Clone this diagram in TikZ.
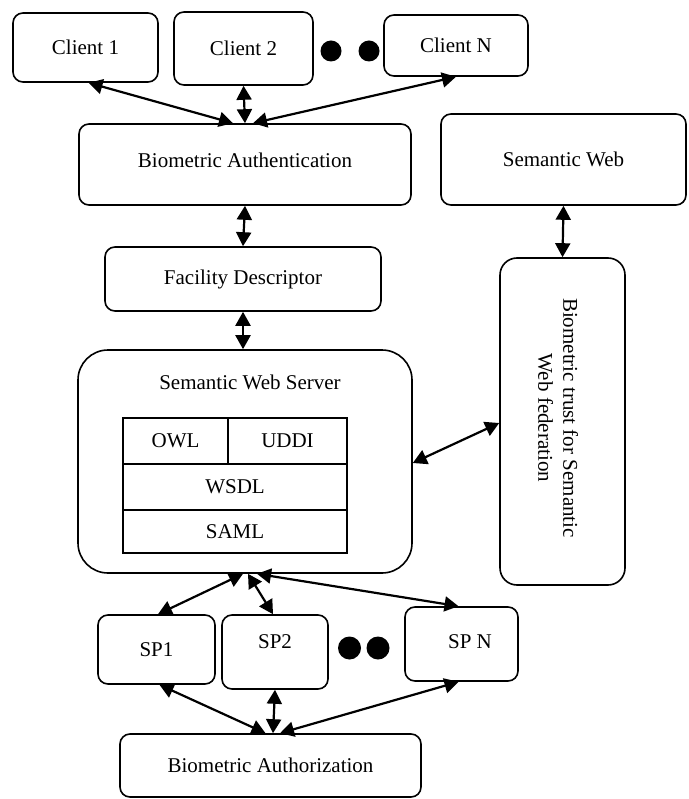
\documentclass[tikz,border=0pt]{standalone}
\usepackage{fontspec}
\setmainfont{Liberation Serif}
\usetikzlibrary{arrows.meta}
\newcommand{\fs}{\fontsize{21}{25}\selectfont}
\begin{document}
\begin{tikzpicture}[x=1pt,y=-1pt,font=\fs,
  box/.style={draw, line width=1.6pt, rounded corners=10pt, inner sep=0pt},
  cell/.style={draw, line width=1.6pt, inner sep=0pt},
  arr/.style={line width=2.2pt, {Triangle[length=14pt,width=15pt]}-{Triangle[length=14pt,width=15pt]}},
  dot/.style={fill=black, circle, inner sep=0pt}]
\useasboundingbox (0,0) rectangle (688,799);
% clients
\node[box, minimum width=145pt, minimum height=69pt] (c1) at (85.5,47.5) {Client 1};
\node[box, minimum width=139pt, minimum height=73pt] (c2) at (243.5,48.5) {Client 2};
\node[box, minimum width=144pt, minimum height=61pt] (cn) at (456,45.5) {Client N};
\node[dot, minimum size=21pt] (d1) at (331,51) {};
\node[dot, minimum size=21pt] (d2) at (369,51) {};
% authentication
\node[box, minimum width=332pt, minimum height=81pt, label={[yshift=4.5pt]center:Biometric Authentication}] (ba) at (245,164.5) {};
\node[box, minimum width=245pt, minimum height=91pt] (sw) at (563.5,159.5) {Semantic Web};
\node[box, minimum width=276pt, minimum height=64pt] (fd) at (243,279) {Facility Descriptor};
% semantic web server
\node[box, rounded corners=30pt, minimum width=334pt, minimum height=223pt] (sws) at (245,461.5) {};
\node (swst) at (250,382) {Semantic Web Server};
\node[cell, minimum width=105pt, minimum height=46pt] (owl) at (175.5,441) {OWL};
\node[cell, minimum width=119pt, minimum height=46pt] (uddi) at (287.5,441) {UDDI};
\node[cell, minimum width=224pt, minimum height=46pt] (wsdl) at (235,487) {WSDL};
\node[cell, minimum width=224pt, minimum height=43pt] (saml) at (235,531.5) {SAML};
% trust
\node[box, rounded corners=17pt, minimum width=125pt, minimum height=327pt] (tr) at (562.5,421.5) {};
\node[rotate=-90, align=center] (trt) at (558,418) {Biometric trust for Semantic\\Web federation};
% service providers
\node[box, minimum width=117pt, minimum height=69pt] (sp1) at (156.5,649.5) {SP1};
\node[box, minimum width=106pt, minimum height=74pt, label={[yshift=10pt]center:SP2}] (sp2) at (275,652) {};
\node[box, minimum width=113pt, minimum height=74pt, label={[xshift=8.5pt,yshift=2pt]center:SP N}] (spn) at (461.5,644) {};
\node[dot, minimum size=23pt] (d3) at (349.5,648) {};
\node[dot, minimum size=23pt] (d4) at (378,648) {};
\node[box, minimum width=301pt, minimum height=63pt] (baz) at (270.5,765.5) {Biometric Authorization};
% connectors
\draw[arr] ([xshift=3pt]c1.south) -- ([xshift=-12pt]ba.north);
\draw[arr] (c2.south) -- (ba.north);
\draw[arr] (cn.south) -- ([xshift=8pt]ba.north);
\draw[arr] ([xshift=563.5pt-245pt]ba.north |- sw.south) -- (tr.north);
\draw[arr] (ba.south) -- (fd.north);
\draw[arr] (fd.north |- fd.south) -- (fd.north |- sws.north);
\draw[arr] ([yshift=-1.5pt]sws.east) -- ([yshift=-1.5pt]tr.west);
\draw[arr] ([xshift=1.5pt]sp1.north) -- ([xshift=-2pt]sws.south);
\draw[arr] ([xshift=-2pt]sp2.north) -- ([xshift=3pt]sws.south);
\draw[arr] ([xshift=-3pt]spn.north) -- ([xshift=12pt]sws.south);
\draw[arr] ([xshift=3pt]sp1.south) -- ([xshift=-5pt]baz.north);
\draw[arr] (sp2.south) -- ([xshift=2.5pt]baz.north);
\draw[arr] ([xshift=-3pt]spn.south) -- ([xshift=9.5pt]baz.north);
\end{tikzpicture}
\end{document}
